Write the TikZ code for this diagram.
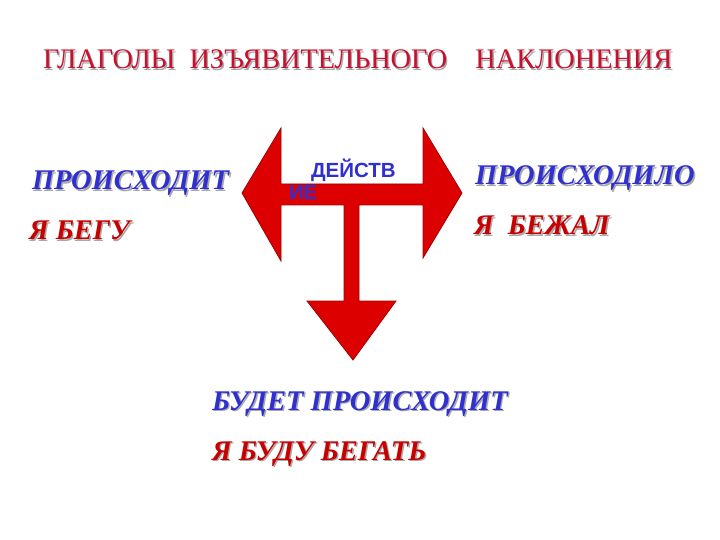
\documentclass[tikz,border=0pt]{standalone}
\usepackage{fontspec}
\setmainfont{Liberation Serif}
\newfontfamily\arialfont{Liberation Sans}
\usetikzlibrary{calc}
\definecolor{titlered}{HTML}{C8102E}
\definecolor{txtred}{HTML}{C80000}
\definecolor{txtblue}{HTML}{3030D0}
\definecolor{arrowred}{HTML}{DD0000}
\definecolor{arrowedge}{HTML}{A00000}
\definecolor{shadowgray}{HTML}{A8A8A8}
\newcommand{\shd}[1]{\rlap{\hspace{1.4pt}\raisebox{-1.4pt}{\textcolor{shadowgray}{#1}}}#1}
\tikzset{
  txt/.style={anchor=base west, inner sep=0pt, outer sep=0pt},
  titletxt/.style={txt, text=titlered, font=\fontsize{28.3}{34}\selectfont},
  bluetxt/.style={txt, text=txtblue, font=\fontsize{28.5}{34}\selectfont\bfseries\itshape},
  redtxt/.style={txt, text=txtred, font=\fontsize{28.5}{34}\selectfont\bfseries\itshape},
  labeltxt/.style={txt, text=txtblue, font=\fontsize{20.5}{24}\selectfont\arialfont\bfseries},
  bigarrow/.style={fill=arrowred, draw=arrowedge, line width=0.8pt, line join=miter}
}
\begin{document}
\begin{tikzpicture}[x=1pt, y=-1pt]
\useasboundingbox (0,0) rectangle (720,540);
\fill[white] (0,0) rectangle (720,540);

% title
\node[titletxt] (title) at (43,69) {\shd{ГЛАГОЛЫ\ \ ИЗЪЯВИТЕЛЬНОГО\ \ \ \ НАКЛОНЕНИЯ}};

% the arrow shape
\draw[bigarrow] (242,193) -- (281,128) -- (281,184) -- (423,184) -- (423,128)
  -- (462,193) -- (423,258) -- (423,205) -- (359,205) -- (359,301)
  -- (396,301) -- (353,360) -- (307,301) -- (344,301) -- (344,205)
  -- (281,205) -- (281,261) -- cycle;

\node[labeltxt] (act1) at (311,178) {ДЕЙСТВ};
\node[labeltxt] (act2) at (289,200) {ИЕ};

% left
\node[bluetxt] (present) at (32,190) {\shd{ПРОИСХОДИТ}};
\node[redtxt] (presentex) at (29,240) {\shd{Я БЕГУ}};

% right
\node[bluetxt] (past) at (475,185) {\shd{ПРОИСХОДИЛО}};
\node[redtxt] (pastex) at (474,235) {\shd{Я\ \ БЕЖАЛ}};

% bottom
\node[bluetxt] (future) at (212,410) {\shd{БУДЕТ ПРОИСХОДИТ}};
\node[redtxt] (futureex) at (212,460) {\shd{Я БУДУ БЕГАТЬ}};
\end{tikzpicture}
\end{document}
